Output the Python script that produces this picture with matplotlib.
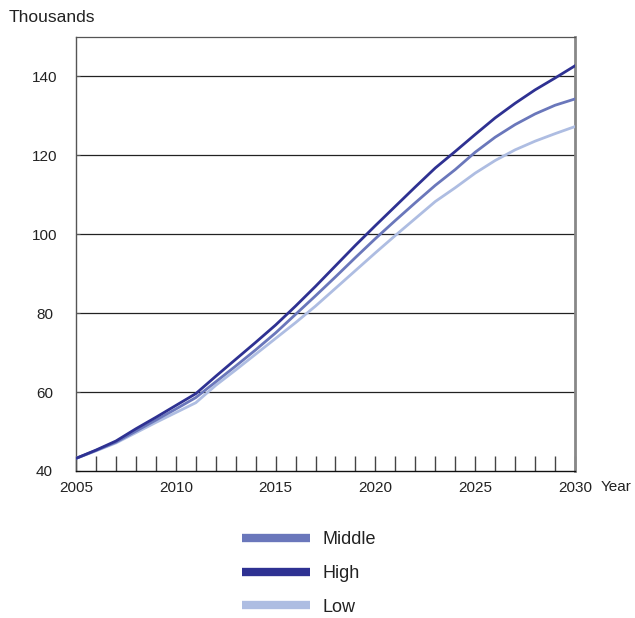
import matplotlib
matplotlib.use("Agg")
import matplotlib.pyplot as plt
from matplotlib.ticker import MultipleLocator

plt.rcParams['font.family'] = ['Liberation Sans', 'DejaVu Sans']

years = list(range(2005, 2031))
high = [43.2, 45.3, 47.6, 50.7, 53.6, 56.6, 59.6, 64.0, 68.3, 72.6, 77.0, 81.8, 86.8,
        92.0, 97.2, 102.2, 107.1, 112.0, 116.8, 121.0, 125.3, 129.5, 133.2, 136.6, 139.6, 142.7]
middle = [43.2, 45.2, 47.3, 50.1, 52.9, 55.7, 58.6, 62.6, 66.6, 70.7, 75.0, 79.7, 84.4,
          89.2, 94.1, 98.9, 103.5, 108.0, 112.4, 116.4, 120.8, 124.6, 127.8, 130.5, 132.7, 134.3]
low = [43.2, 45.1, 47.1, 49.7, 52.3, 54.8, 57.3, 61.7, 65.6, 69.6, 73.6, 77.6, 81.8,
       86.3, 90.8, 95.3, 99.7, 104.0, 108.3, 111.8, 115.5, 118.7, 121.4, 123.6, 125.5, 127.3]
series_names = ["Middle", "High", "Low"]
y_ticks = [40, 60, 80, 100, 120, 140]
x_ticks = [2005, 2010, 2015, 2020, 2025, 2030]

colors = {"High": "#2e3192", "Middle": "#6a77bb", "Low": "#aebde2"}
data = {"High": high, "Middle": middle, "Low": low}

fig = plt.figure(figsize=(6.35, 6.18), dpi=100)
ax = fig.add_axes([76/635, 1-471/618, (575-76)/635, (471-37)/618])

for yv in y_ticks[1:]:
    ax.axhline(yv, color="#222222", lw=0.9, zorder=1)

for name in ["Low", "Middle", "High"]:
    ax.plot(years, data[name], color=colors[name], lw=2.0, zorder=3,
            solid_joinstyle='miter')

ax.set_xlim(2005, 2030)
ax.set_ylim(40, 150)
ax.set_yticks(y_ticks)
ax.set_xticks(x_ticks)
ax.xaxis.set_minor_locator(MultipleLocator(1))
ax.tick_params(axis='y', direction='in', length=3, width=0.8, color="#555555",
               pad=22.7, labelsize=11, labelcolor="#222222")
for lab in ax.get_yticklabels():
    lab.set_horizontalalignment('center')
ax.tick_params(axis='x', which='both', direction='in', length=10.5, width=1.0,
               color="#444444", pad=7, labelsize=11, labelcolor="#222222")

ax.spines['bottom'].set_color("#111111")
ax.spines['bottom'].set_linewidth(1.0)
ax.spines['left'].set_color("#555555")
ax.spines['left'].set_linewidth(1.0)
ax.spines['top'].set_color("#555555")
ax.spines['top'].set_linewidth(0.9)
ax.spines['right'].set_color("#888888")
ax.spines['right'].set_linewidth(2.0)

fig.text(9/635, 1-17/618, "Thousands", fontsize=12.5, color="#222222", va='center', ha='left')
fig.text(601/635, 1-487/618, "Year", fontsize=11, color="#222222", va='center', ha='left')

handles = []
for name in series_names:
    h, = ax.plot([], [], color=colors[name], lw=6, solid_capstyle='butt')
    handles.append(h)
leg = fig.legend(handles, series_names, loc='center left',
                 bbox_to_anchor=((242-16)/635, 1-573.5/618), frameon=False,
                 fontsize=13, handlelength=3.77, handletextpad=0.66,
                 labelspacing=0.92, labelcolor="#222222")

fig.savefig("out.png", dpi=100)
